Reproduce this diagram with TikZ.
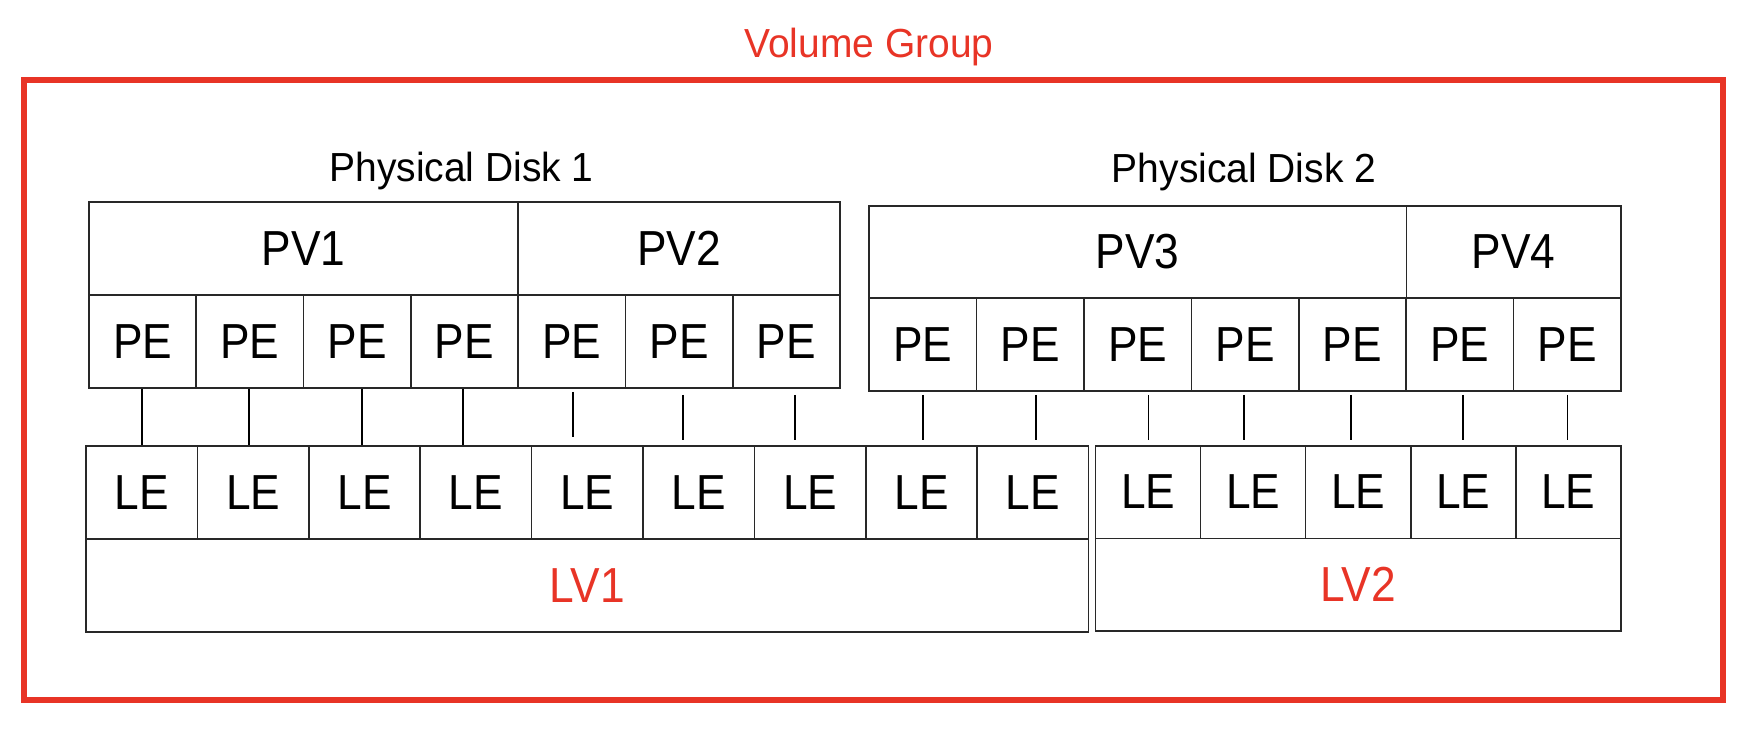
\documentclass[tikz,border=0pt]{standalone}
\usepackage{fontspec}
\setmainfont{Liberation Sans}
\newfontfamily\cellfont[FakeStretch=0.9]{Liberation Sans}
\newfontfamily\lblfont[FakeStretch=0.96]{Liberation Sans}
\usetikzlibrary{calc}
\definecolor{vgred}{RGB}{232,52,38}
\definecolor{boxgray}{RGB}{40,40,40}
\begin{document}
\begin{tikzpicture}[x=0.5pt,y=-0.5pt,
  cell/.style={draw=boxgray, line width=0.8pt, inner sep=0pt, font=\cellfont\fontsize{24.6}{28}\selectfont},
  lbl/.style={font=\lblfont\fontsize{20.3}{24}\selectfont, anchor=base, inner sep=0pt},
  link/.style={line width=0.8pt}]
\useasboundingbox (0,0) rectangle (1756,738);
% volume group frame
\node[draw=vgred, line width=3.4pt, minimum width=849.5pt, minimum height=310pt, inner sep=0pt] (vg) at (873.5,390) {};
\node[lbl, text=vgred] (vgt) at (869,58) {Volume Group};
% disk labels
\node[lbl] (d1) at (461.5,181) {Physical Disk 1};
\node[lbl] (d2) at (1244,183) {Physical Disk 2};
% PV rows
\node[cell, minimum width=214.5pt, minimum height=46.5pt] (pv1) at (303.5,248.5) {PV1};
\node[cell, minimum width=161pt, minimum height=46.5pt] (pv2) at (679,248.5) {PV2};
\node[cell, minimum width=268.7pt, minimum height=46.15pt] (pv3) at (1137.7,251.85) {PV3};
\node[cell, minimum width=107.3pt, minimum height=46.15pt] (pv4) at (1513.7,251.85) {PV4};
% PE cells
\foreach \i in {1,...,7}
  \node[cell, minimum width=53.645pt, minimum height=46.5pt] (pe\i) at ({89+107.29*(\i-0.5)},341.5) {PE};
\foreach \j in {1,...,7}{
  \pgfmathtruncatemacro\i{\j+7}
  \node[cell, minimum width=53.715pt, minimum height=46.5pt] (pe\i) at ({869+107.43*(\j-0.5)},344.5) {PE};
}
% LE cells
\foreach \i in {1,...,9}
  \node[cell, minimum width=55.7pt, minimum height=46.5pt] (le\i) at ({86+111.4*(\i-0.5)},492.5) {LE};
\foreach \j in {1,...,5}{
  \pgfmathtruncatemacro\i{\j+9}
  \node[cell, minimum width=52.52pt, minimum height=46.3pt] (le\i) at ({1095.6+105.04*(\j-0.5)},492) {LE};
}
% LV rows
\node[cell, text=vgred, minimum width=501.3pt, minimum height=46.5pt] (lv1) at (587.3,585.5) {LV1};
\node[cell, text=vgred, minimum width=262.6pt, minimum height=46.2pt] (lv2) at (1358.2,584.5) {LV2};
% PE -> LE links
\foreach \i/\dx/\a/\b in {1/-0.8/0/0, 2/-1/0/0, 3/4.5/0/0, 4/-1.7/0/0, 5/1.3/3/8, 6/4/6/5, 7/8.7/6/5,
  8/0/3/5, 9/6/3/5, 10/11/3/5, 11/-1/3/5, 12/-1.5/3/5, 13/3/3/5, 14/0/3/5}
  \draw[link] ($(pe\i.south)+(\dx,\a)$) -- ($(pe\i.south |- le\i.north)+(\dx,-\b)$);
\end{tikzpicture}
\end{document}
